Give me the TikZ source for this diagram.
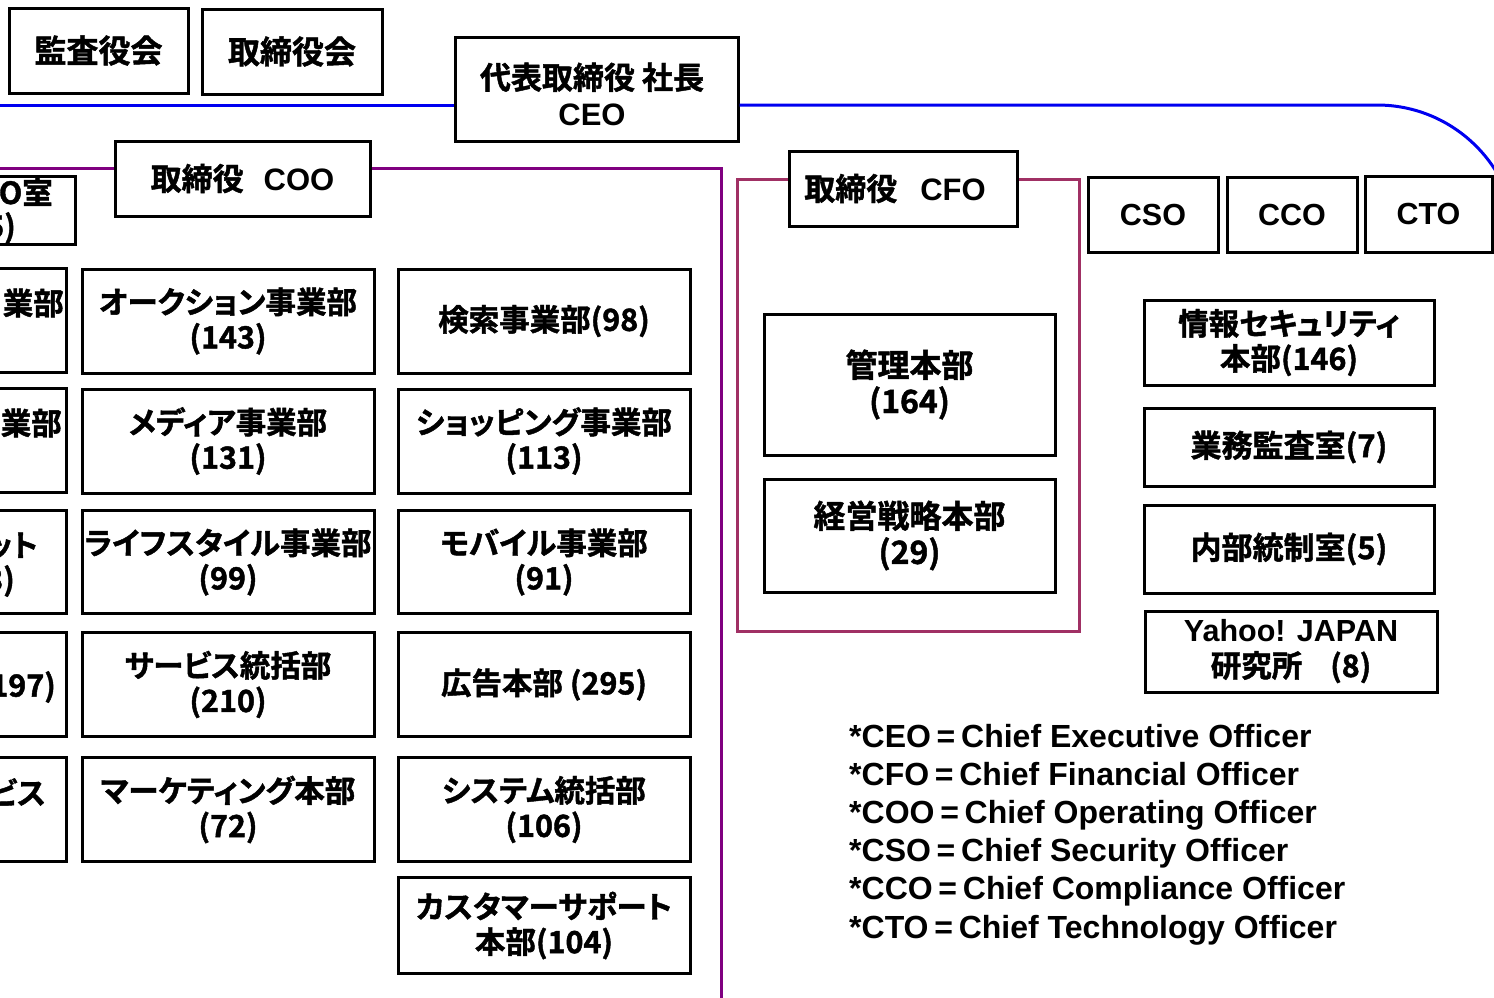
\documentclass[tikz,border=0pt]{standalone}
\usepackage{fontspec}
\setmainfont{Liberation Sans}
\newfontfamily\lat{Liberation Sans}
\newfontfamily\jp{Noto Sans CJK JP}[BoldFont=* Bold, BoldFeatures={FakeBold=1.4}, RawFeature=+palt]
\begin{document}
\begin{tikzpicture}[x=1pt,y=-1pt,
  box/.style={draw=black, line width=3pt, fill=white, inner sep=0pt, align=center,
    font=\jp\bfseries\fontsize{30.5}{35}\selectfont},
  bigjp/.style={font=\jp\bfseries\fontsize{32}{36}\selectfont},
  latbox/.style={font=\lat\bfseries\fontsize{30.5}{35}\selectfont},
  lbl/.style={inner sep=0pt, font=\jp\bfseries\fontsize{30.5}{35}\selectfont},
  legend/.style={inner sep=0pt, anchor=base west, font=\lat\bfseries\fontsize{32}{38}\selectfont},
  blueline/.style={draw={rgb,255:red,0;green,0;blue,240}, line width=3pt},
  cooline/.style={draw={rgb,255:red,128;green,0;blue,128}, line width=3pt},
  cfoline/.style={draw={rgb,255:red,160;green,48;blue,100}, line width=3pt}
]
\newcommand{\eqs}{\hspace{0.18em}=\hspace{0.18em}}
\useasboundingbox (0,0) rectangle (1494,997);
\clip (0,0) rectangle (1494,997);

% helper coordinates for connector heights
\coordinate (by) at (0,105);
\coordinate (py) at (0,168);
\coordinate (fy) at (0,179);
\coordinate (bl) at (-10,105);
\coordinate (pl) at (-10,168);
\coordinate (bcorner) at (1517,105);
\coordinate (bend) at (1517,400);
\coordinate (pbot) at (721,1010);

% top boxes
\node[box, bigjp, minimum width=179, minimum height=85] (kansa) at (98.5,50.5) {監査役会};
\node[box, bigjp, minimum width=180, minimum height=85] (torishimari) at (292,51.5) {取締役会};
\node[box, minimum width=283, minimum height=104] (ceo) at (596.5,89) {};
\node[lbl, align=center, font=\jp\bfseries\fontsize{31}{36}\selectfont] (ceot) at (592,94)
  {代表取締役 社長\\{\lat\bfseries CEO}};

% blue line CEO
\draw[blueline] (bl) -- (ceo.west |- by);
\draw[blueline, rounded corners=140pt] (ceo.east |- by) -- (bcorner) -- (bend);

% COO
\node[box, minimum width=255, minimum height=75, font=\jp\bfseries\fontsize{31}{35}\selectfont] (coo) at (242.5,178.5)
  {取締役\hspace{20pt}{\lat\bfseries COO}};
\draw[cooline] (pl) -- (coo.west |- py);
\draw[cooline] (coo.east |- py) -- (721,168) -- (pbot);
\node[box, minimum width=95, minimum height=68] (ceoshitsu) at (27.5,210) {};
\node[lbl] (ceoshitsuA) [anchor=east] at (53,192) {O室};
\node[lbl] (ceoshitsuB) [anchor=east] at (16,228) {5)};

% left (cut) column
\node[box, minimum width=86, minimum height=104] (l1) at (23,320) {};
\node[box, minimum width=86, minimum height=104] (l2) at (23,440) {};
\node[box, minimum width=86, minimum height=103] (l3) at (23,561.5) {};
\node[box, minimum width=86, minimum height=104] (l4) at (23,684) {};
\node[box, minimum width=86, minimum height=104] (l5) at (23,809) {};
\node[lbl, anchor=east] (l1t) at (64,303) {業部};
\node[lbl, anchor=east] (l2t) at (62,423) {業部};
\node[lbl, anchor=east] (l3t) at (38,546) {ット};
\node[lbl, anchor=east] (l3u) at (15,581) {3)};
\node[lbl, anchor=east] (l4t) at (56,687) {197)};
\node[lbl, anchor=east] (l5t) at (46,792) {ビス};

% middle column
\node[box, minimum width=292, minimum height=104] (m1) at (228,321) {オークション事業部\\(143)};
\node[box, minimum width=292, minimum height=104] (m2) at (228,441) {メディア事業部\\(131)};
\node[box, minimum width=292, minimum height=103] (m3) at (228,562) {ライフスタイル事業部\\(99)};
\node[box, minimum width=292, minimum height=104] (m4) at (228,684.5) {サービス統括部\\(210)};
\node[box, minimum width=292, minimum height=104] (m5) at (228,809.5) {マーケティング本部\\(72)};

% right column
\node[box, minimum width=292, minimum height=104] (r1) at (544,321) {検索事業部(98)};
\node[box, minimum width=292, minimum height=104] (r2) at (544,441) {ショッピング事業部\\(113)};
\node[box, minimum width=292, minimum height=103] (r3) at (544,562) {モバイル事業部\\(91)};
\node[box, minimum width=292, minimum height=104] (r4) at (544,684.5) {広告本部 (295)};
\node[box, minimum width=292, minimum height=104] (r5) at (544,809.5) {システム統括部\\(106)};
\node[box, minimum width=292, minimum height=96] (r6) at (544,925.5) {カスタマーサポート\\本部(104)};

% CFO
\node[box, minimum width=228, minimum height=75, font=\jp\bfseries\fontsize{31}{35}\selectfont] (cfo) at (903,188.5)
  {取締役\hspace{23pt}{\lat\bfseries CFO}\hspace{16pt}};
\draw[cfoline] (cfo.west |- fy) -- (737,179) -- (737,631) -- (1079,631) -- (1079,179) -- (cfo.east |- fy);
\node[box, minimum width=291, minimum height=141, bigjp, align=center] (kanri) at (909.5,384.5) {管理本部\\(164)};
\node[box, minimum width=291, minimum height=113, bigjp, align=center] (keiei) at (909.5,535.5) {経営戦略本部\\(29)};

% CSO CCO CTO
\node[box, latbox, minimum width=130, minimum height=75] (cso) at (1153,214.5) {CSO};
\node[box, latbox, minimum width=130, minimum height=75] (cco) at (1292,214.5) {CCO};
\node[box, latbox, minimum width=127, minimum height=76] (cto) at (1428.5,214) {CTO};

% right stack
\node[box, minimum width=290, minimum height=85] (joho) at (1289,342.5) {情報セキュリティ\\本部(146)};
\node[box, minimum width=290, minimum height=78, font=\jp\bfseries\fontsize{31}{35}\selectfont] (gyomu) at (1289,447) {業務監査室(7)};
\node[box, minimum width=290, minimum height=88, font=\jp\bfseries\fontsize{31}{35}\selectfont] (naibu) at (1289,549) {内部統制室(5)};
\node[box, minimum width=292, minimum height=81] (yahoo) at (1291,651.5)
  {{\lat\bfseries\fontsize{30.5}{35}\selectfont Yahoo! JAPAN}\\研究所\hspace{28pt}(8)};

% legend
\node[legend] (lg1) at (849,747) {*CEO\eqs Chief Executive Officer};
\node[legend] (lg2) at (849,785) {*CFO\eqs Chief Financial Officer};
\node[legend] (lg3) at (849,823) {*COO\eqs Chief Operating Officer};
\node[legend] (lg4) at (849,861) {*CSO\eqs Chief Security Officer};
\node[legend] (lg5) at (849,899) {*CCO\eqs Chief Compliance Officer};
\node[legend] (lg6) at (849,938) {*CTO\eqs Chief Technology Officer};
\end{tikzpicture}
\end{document}
